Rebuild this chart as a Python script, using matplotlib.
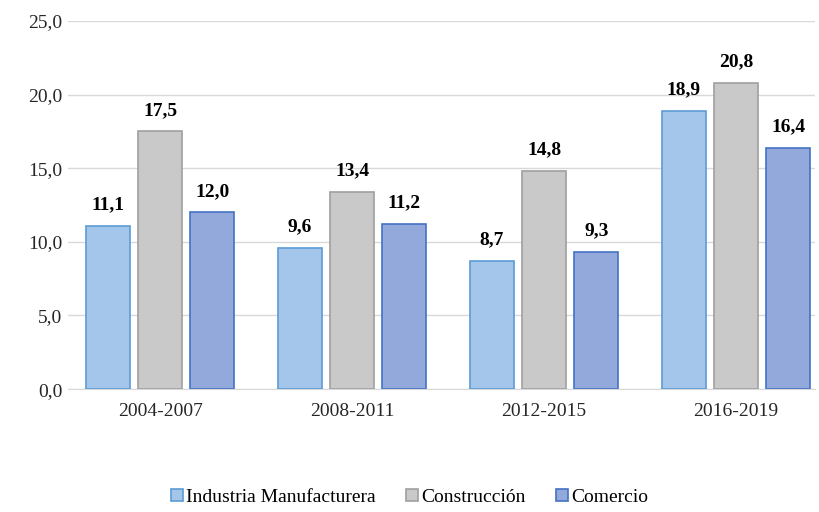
import numpy as np
from matplotlib import pyplot as plt

periods = ['2004-2007', '2008-2011', '2012-2015', '2016-2019']
industria = [11.1, 9.6, 8.7, 18.9]
construccion = [17.5, 13.4, 14.8, 20.8]
comercio = [12.0, 11.2, 9.3, 16.4]

plt.rcParams['font.family'] = ['Liberation Serif', 'DejaVu Serif']

fig = plt.figure(figsize=(8.19, 5.12), dpi=100)
ax = fig.add_axes([0.083, 0.24, 0.912, 0.719])

x = np.arange(len(periods))
w = 0.23
step = 0.272

series = [
    (industria, 'Industria Manufacturera', '#a4c6ea', '#5b9bd5'),
    (construccion, 'Construcción', '#c9c9c9', '#a0a0a0'),
    (comercio, 'Comercio', '#93a9dc', '#4472c4'),
]

for i, (vals, label, fc, ec) in enumerate(series):
    pos = x + (i - 1) * step
    ax.bar(pos, vals, width=w, color=fc, edgecolor=ec, linewidth=1.2,
           label=label, zorder=3)
    for px, v in zip(pos, vals):
        ax.text(px, v + 0.85, f'{v:.1f}'.replace('.', ','), ha='center',
                va='bottom', fontsize=14, fontweight='bold')

ax.set_ylim(0, 25)
ax.set_xlim(-0.48, 3.41)
ax.set_yticks(np.arange(0, 26, 5))
ax.set_yticklabels([f'{t:.1f}'.replace('.', ',') for t in np.arange(0, 26, 5)])
ax.set_xticks(x)
ax.set_xticklabels(periods)
ax.tick_params(axis='both', length=0, labelsize=14, labelcolor='#262626')
ax.tick_params(axis='y', pad=4)
ax.tick_params(axis='x', pad=10)
ax.grid(axis='y', color='#d9d9d9', linewidth=1, zorder=0)
for s in ['top', 'right', 'left']:
    ax.spines[s].set_visible(False)
ax.spines['bottom'].set_color('#d9d9d9')

fig.legend(loc='lower center', bbox_to_anchor=(0.5, -0.022), ncol=3,
           frameon=False, fontsize=14, handlelength=0.6, handleheight=0.6,
           handletextpad=0.15, columnspacing=1.6)

plt.savefig('out.png')
